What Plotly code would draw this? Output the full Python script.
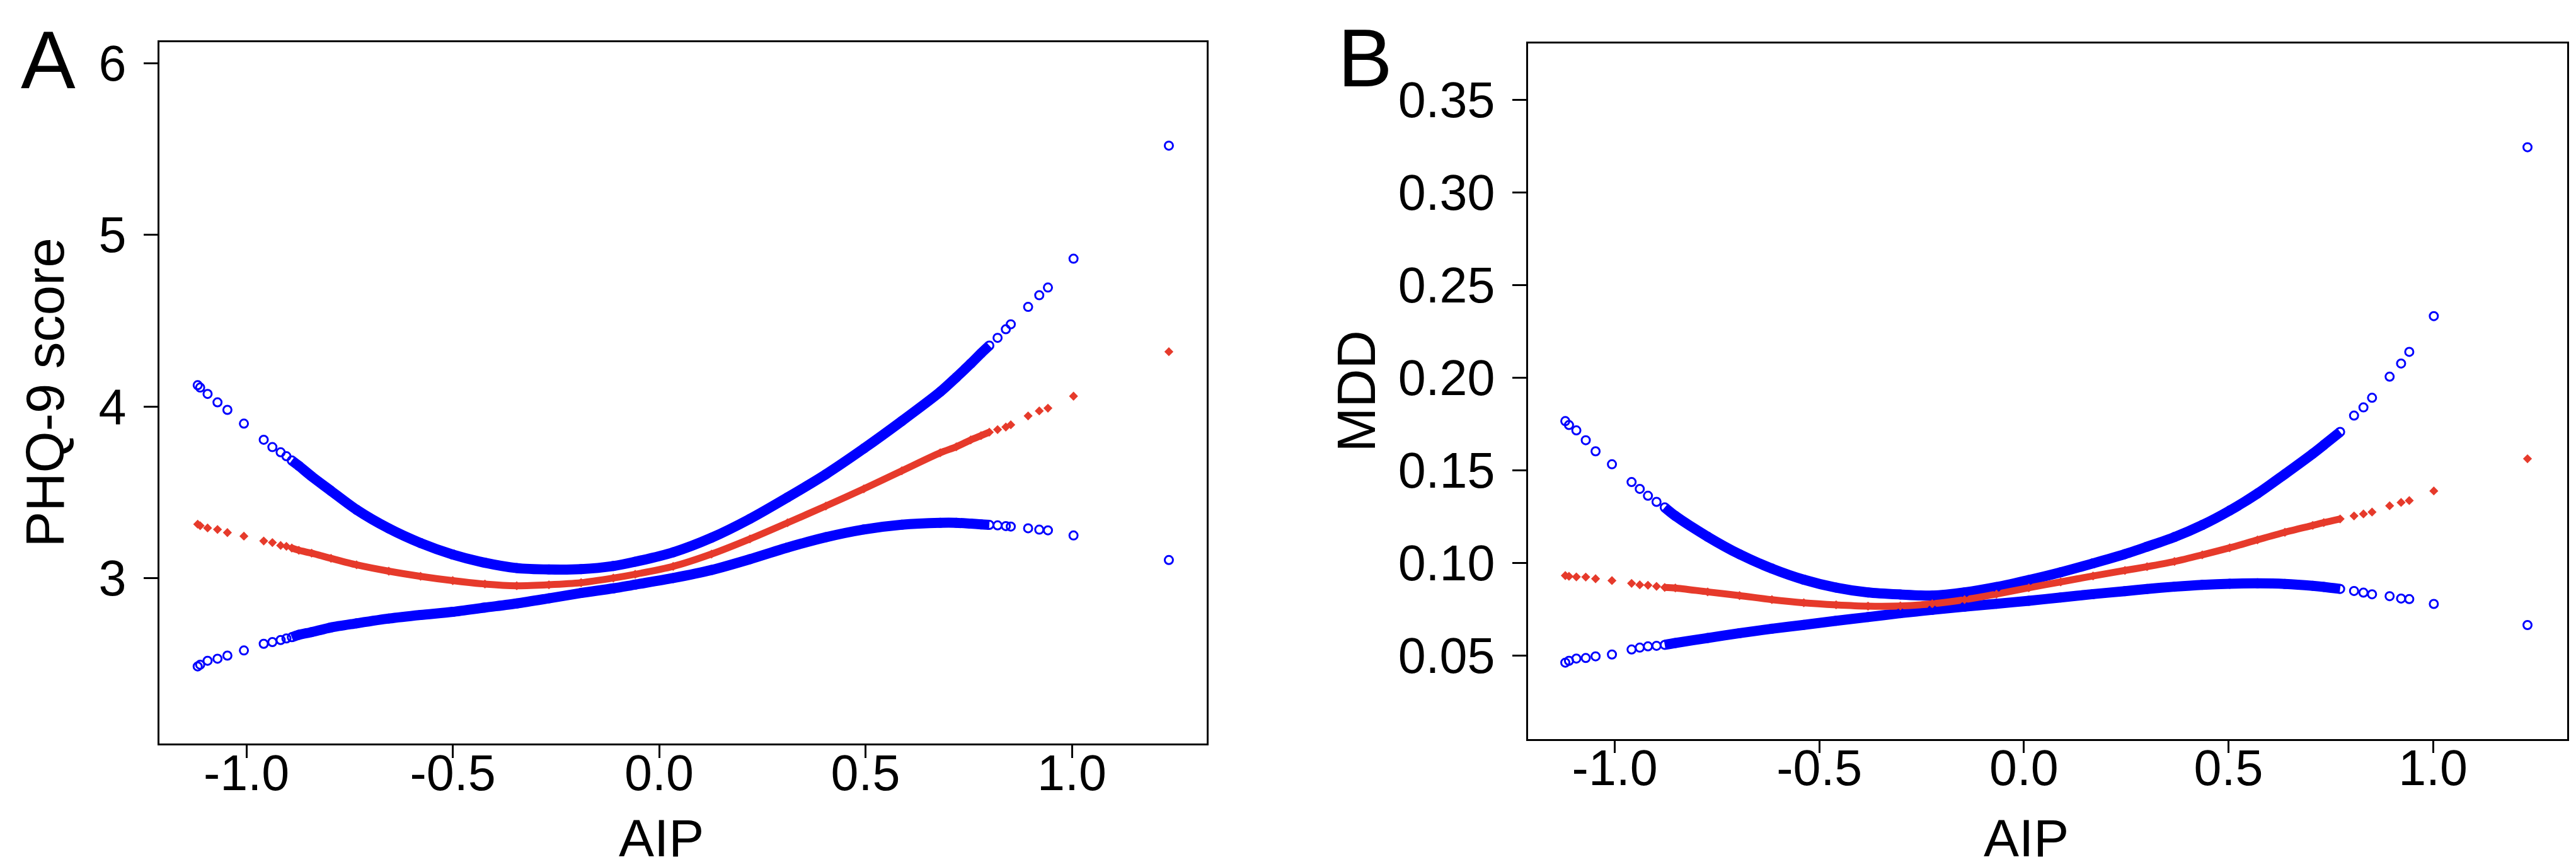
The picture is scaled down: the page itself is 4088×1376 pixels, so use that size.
import plotly.graph_objects as go

# ---------------- data ----------------
# Panel A: PHQ-9 score vs AIP (fit and 95% CI bounds)
aip_a = [-1.118, -1.112, -1.094, -1.070, -1.046, -1.006, -0.958, -0.937, -0.917, -0.903,
         -0.890, -0.873, -0.842, -0.795, -0.733, -0.655, -0.578, -0.500, -0.422, -0.345,
         -0.267, -0.189, -0.111, -0.058, 0.034, 0.127, 0.220, 0.311, 0.404, 0.496,
         0.588, 0.681, 0.720, 0.755, 0.780, 0.800, 0.820, 0.840, 0.852, 0.894,
         0.921, 0.942, 1.004, 1.235]
phq_upper = [4.124, 4.110, 4.073, 4.024, 3.980, 3.900, 3.806, 3.763, 3.733, 3.710,
             3.685, 3.654, 3.593, 3.508, 3.398, 3.289, 3.204, 3.137, 3.089, 3.058,
             3.050, 3.052, 3.070, 3.095, 3.150, 3.235, 3.345, 3.470, 3.605, 3.755,
             3.915, 4.085, 4.170, 4.250, 4.310, 4.355, 4.400, 4.450, 4.479, 4.580,
             4.648, 4.693, 4.861, 5.520]
phq_fit = [3.314, 3.305, 3.292, 3.283, 3.265, 3.244, 3.216, 3.207, 3.190, 3.185,
           3.175, 3.162, 3.145, 3.115, 3.077, 3.040, 3.010, 2.985, 2.965, 2.955,
           2.961, 2.973, 3.000, 3.022, 3.068, 3.140, 3.228, 3.322, 3.420, 3.520,
           3.625, 3.730, 3.765, 3.805, 3.830, 3.850, 3.865, 3.880, 3.893, 3.945,
           3.974, 3.990, 4.060, 4.319]
phq_lower = [2.485, 2.495, 2.518, 2.530, 2.548, 2.578, 2.617, 2.627, 2.639, 2.648,
             2.655, 2.669, 2.685, 2.712, 2.736, 2.764, 2.785, 2.803, 2.828, 2.852,
             2.882, 2.913, 2.940, 2.962, 3.000, 3.047, 3.110, 3.178, 3.238, 3.283,
             3.311, 3.322, 3.322, 3.317, 3.313, 3.310, 3.307, 3.303, 3.300, 3.290,
             3.282, 3.278, 3.248, 3.105]

# Panel B: MDD probability vs AIP
aip_b = [-1.121, -1.112, -1.094, -1.071, -1.047, -1.007, -0.959, -0.939, -0.919, -0.898,
         -0.878, -0.852, -0.773, -0.695, -0.616, -0.538, -0.459, -0.381, -0.302, -0.224,
         -0.145, -0.067, 0.012, 0.090, 0.169, 0.247, 0.301, 0.368, 0.436, 0.503,
         0.571, 0.638, 0.706, 0.733, 0.773, 0.807, 0.830, 0.851, 0.894, 0.922,
         0.942, 1.002, 1.231]
mdd_upper = [0.1766, 0.1745, 0.1716, 0.1663, 0.1603, 0.1533, 0.1437, 0.1400, 0.1363, 0.1330,
             0.1300, 0.1254, 0.1142, 0.1047, 0.0970, 0.0910, 0.0867, 0.0841, 0.0830, 0.0824,
             0.0841, 0.0870, 0.0908, 0.0950, 0.0998, 0.1048, 0.1088, 0.1140, 0.1205, 0.1283,
             0.1375, 0.1480, 0.1590, 0.1637, 0.1708, 0.1796, 0.1840, 0.1892, 0.2006, 0.2077,
             0.2140, 0.2333, 0.3245]
mdd_fit = [0.0932, 0.0928, 0.0925, 0.0924, 0.0915, 0.0905, 0.0890, 0.0882, 0.0880, 0.0874,
           0.0868, 0.0865, 0.0844, 0.0824, 0.0802, 0.0785, 0.0774, 0.0767, 0.0768, 0.0780,
           0.0802, 0.0832, 0.0866, 0.0898, 0.0930, 0.0960, 0.0980, 0.1008, 0.1044, 0.1082,
           0.1125, 0.1166, 0.1203, 0.1218, 0.1238, 0.1254, 0.1265, 0.1275, 0.1309, 0.1327,
           0.1337, 0.1389, 0.1563]
mdd_lower = [0.0462, 0.0472, 0.0484, 0.0487, 0.0496, 0.0506, 0.0533, 0.0543, 0.0550, 0.0553,
             0.0558, 0.0568, 0.0595, 0.0621, 0.0645, 0.0666, 0.0688, 0.0708, 0.0729, 0.0747,
             0.0764, 0.0780, 0.0796, 0.0814, 0.0832, 0.0848, 0.0860, 0.0872, 0.0882, 0.0888,
             0.0890, 0.0887, 0.0877, 0.0871, 0.0860, 0.0849, 0.0840, 0.0831, 0.0821, 0.0808,
             0.0805, 0.0779, 0.0665]

x_tickvals = [-1.0, -0.5, 0.0, 0.5, 1.0]
x_ticktext = ["-1.0", "-0.5", "0.0", "0.5", "1.0"]
ya_tickvals = [3, 4, 5, 6]
ya_ticktext = ["3", "4", "5", "6"]
yb_tickvals = [0.05, 0.10, 0.15, 0.20, 0.25, 0.30, 0.35]
yb_ticktext = ["0.05", "0.10", "0.15", "0.20", "0.25", "0.30", "0.35"]

# ---------------- style ----------------
W, H = 4088, 1376
FONT = "Liberation Sans, Arial, Helvetica, sans-serif"
BLUE = "#0000FF"
RED = "#E63A2B"
DENSE_LO, DENSE_HI = -0.895, 0.80   # observations are dense here -> marks merge into a band


def px_x(p):
    return p / W


def px_y(p):
    return 1 - p / H


fig = go.Figure()


def add_panel(xs, lo, fit, up, xa, ya):
    core = [i for i, v in enumerate(xs) if DENSE_LO <= v <= DENSE_HI]
    for ys, color, width in ((up, BLUE, 16), (lo, BLUE, 16), (fit, RED, 11)):
        fig.add_trace(go.Scatter(
            x=[xs[i] for i in core], y=[ys[i] for i in core], mode="lines",
            line=dict(color=color, width=width, shape="spline", smoothing=0.8),
            xaxis=xa, yaxis=ya, showlegend=False, hoverinfo="skip"))
    for ys in (up, lo):
        fig.add_trace(go.Scatter(
            x=xs, y=ys, mode="markers",
            marker=dict(symbol="circle-open", size=13, color=BLUE, line=dict(width=3, color=BLUE)),
            xaxis=xa, yaxis=ya, showlegend=False))
    fig.add_trace(go.Scatter(
        x=xs, y=fit, mode="markers",
        marker=dict(symbol="diamond", size=11, color=RED, line=dict(width=0)),
        xaxis=xa, yaxis=ya, showlegend=False))


add_panel(aip_a, phq_lower, phq_fit, phq_upper, "x", "y")
add_panel(aip_b, mdd_lower, mdd_fit, mdd_upper, "x2", "y2")

axis_common = dict(
    showgrid=False, zeroline=False, showline=True, mirror=True,
    linecolor="black", linewidth=2.6, ticks="outside", tickcolor="black",
    tickwidth=2.6, tickfont=dict(family=FONT, size=79, color="black"),
)

fig.update_layout(
    width=W, height=H, autosize=False,
    margin=dict(l=0, r=0, t=0, b=0),
    paper_bgcolor="white", plot_bgcolor="white",
    font=dict(family=FONT, color="black"),
    xaxis=dict(domain=[px_x(245), px_x(1907)], range=[-1.2107, 1.3267],
               tickvals=x_tickvals, ticktext=x_ticktext, ticklen=20,
               ticklabelstandoff=-44, anchor="y", **axis_common),
    yaxis=dict(domain=[px_y(1171), px_y(49)], range=[2.034, 6.124],
               tickvals=ya_tickvals, ticktext=ya_ticktext, ticklen=22,
               ticklabelstandoff=12, anchor="x", **axis_common),
    xaxis2=dict(domain=[px_x(2417), px_x(4066)], range=[-1.212, 1.328],
                tickvals=x_tickvals, ticktext=x_ticktext, ticklen=20,
                ticklabelstandoff=-44, anchor="y2", **axis_common),
    yaxis2=dict(domain=[px_y(1163), px_y(51)], range=[0.00507, 0.38064],
                tickvals=yb_tickvals, ticktext=yb_ticktext, ticklen=22,
                ticklabelstandoff=12, anchor="x2", **axis_common),
)

ann = []


def label(text, xp, yp, size, angle=0):
    ann.append(dict(text=text, x=px_x(xp), y=px_y(yp), xref="paper", yref="paper",
                    xanchor="center", yanchor="middle", showarrow=False, textangle=angle,
                    font=dict(family=FONT, size=size, color="black")))


label("A", 68, 78, 130)
label("B", 2158, 75, 130)
label("PHQ-9 score", 64, 610, 85, -90)
label("MDD", 2145, 607, 85, -90)
label("AIP", 1041, 1322, 84)
label("AIP", 3207, 1322, 84)
fig.update_layout(annotations=ann)

fig.write_html("out.html")
